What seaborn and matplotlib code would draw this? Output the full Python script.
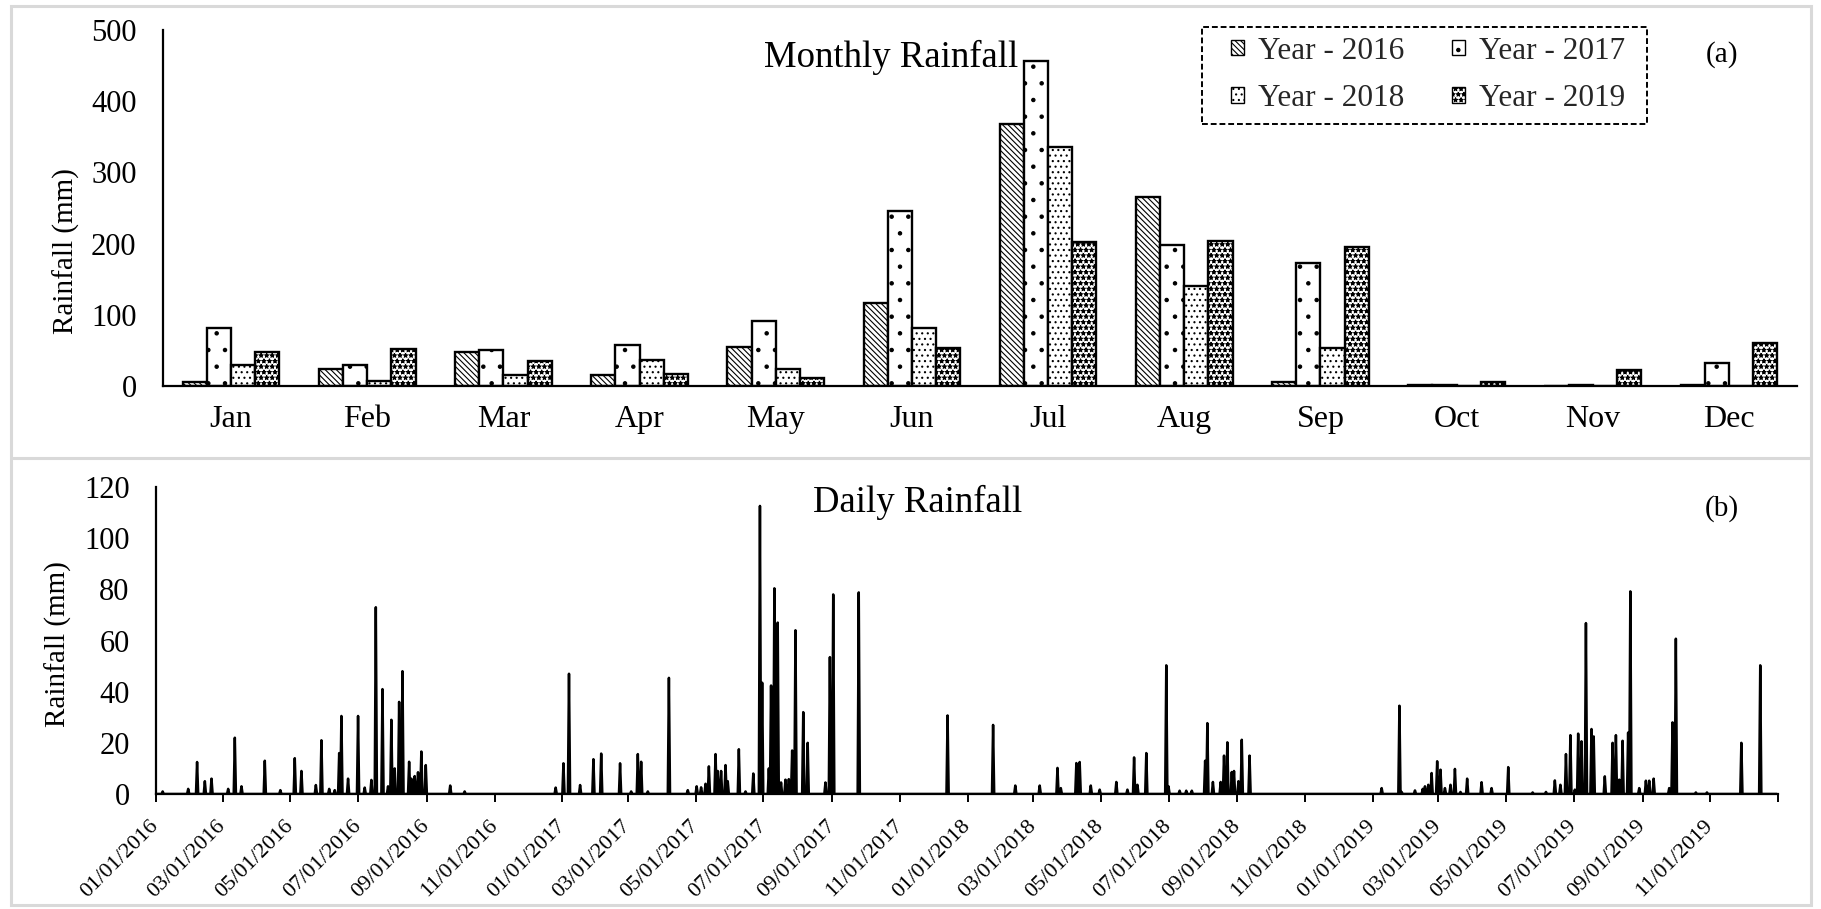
import numpy as np
import pandas as pd
import matplotlib
matplotlib.use("Agg")
import matplotlib.pyplot as plt
import matplotlib.dates as mdates
from matplotlib.patches import Patch, Rectangle
from matplotlib.lines import Line2D
import seaborn as sns

# ---- monthly totals (mm) ----
months = ["Jan", "Feb", "Mar", "Apr", "May", "Jun",
          "Jul", "Aug", "Sep", "Oct", "Nov", "Dec"]
years = ["Year - 2016", "Year - 2017", "Year - 2018", "Year - 2019"]
rain_2016 = [5, 24, 48, 15, 55, 117, 368, 266, 5, 1.5, 0, 1.5]
rain_2017 = [81, 30, 50, 58, 91, 246, 456, 198, 173, 1.5, 1, 33]
rain_2018 = [30, 6.5, 15, 36.5, 24, 81, 335, 141, 53, 0, 0, 0]
rain_2019 = [48, 51.5, 35, 17, 11, 53, 202, 203, 195, 5, 22, 61]
year_hatches = ["\\\\\\\\\\\\", ".", "...", "***"]

# ---- daily rainfall events (mm); all other days are dry ----
event_dates = [
    "2016-01-07", "2016-01-30", "2016-02-07", "2016-02-14", "2016-02-20",
    "2016-03-06", "2016-03-12", "2016-03-18", "2016-04-08", "2016-04-22",
    "2016-05-05", "2016-05-11", "2016-05-24", "2016-05-29", "2016-06-05",
    "2016-06-10", "2016-06-14", "2016-06-16", "2016-06-22", "2016-07-01",
    "2016-07-07", "2016-07-13", "2016-07-17", "2016-07-23", "2016-07-28",
    "2016-07-31", "2016-08-03", "2016-08-07", "2016-08-10", "2016-08-16",
    "2016-08-18", "2016-08-21", "2016-08-24", "2016-08-27", "2016-08-31",
    "2016-09-22", "2016-10-05",
    "2016-12-26", "2017-01-02", "2017-01-07", "2017-01-17", "2017-01-29",
    "2017-02-05", "2017-02-22", "2017-03-04", "2017-03-10", "2017-03-13",
    "2017-03-19", "2017-04-07", "2017-04-24", "2017-05-02", "2017-05-06",
    "2017-05-10", "2017-05-13", "2017-05-19", "2017-05-21", "2017-05-24",
    "2017-05-28", "2017-05-30", "2017-06-09", "2017-06-15", "2017-06-22",
    "2017-06-28", "2017-06-30", "2017-07-06", "2017-07-08", "2017-07-11",
    "2017-07-14", "2017-07-17", "2017-07-21", "2017-07-24", "2017-07-27",
    "2017-07-30", "2017-08-06", "2017-08-10", "2017-08-26", "2017-08-30",
    "2017-09-02", "2017-09-25",
    "2017-12-14", "2018-01-24", "2018-02-13", "2018-03-07", "2018-03-23",
    "2018-03-26", "2018-04-09", "2018-04-12", "2018-04-22", "2018-04-30",
    "2018-05-15", "2018-05-25", "2018-05-31", "2018-06-03", "2018-06-11",
    "2018-06-29", "2018-07-01", "2018-07-11", "2018-07-17", "2018-07-22",
    "2018-08-03", "2018-08-05", "2018-08-10", "2018-08-17", "2018-08-20",
    "2018-08-23", "2018-08-27", "2018-08-29", "2018-09-02", "2018-09-05",
    "2018-09-12",
    "2019-01-09", "2019-01-25", "2019-01-27", "2019-02-08", "2019-02-15",
    "2019-02-17", "2019-02-20", "2019-02-23", "2019-02-28", "2019-03-03",
    "2019-03-07", "2019-03-12", "2019-03-16", "2019-03-21", "2019-03-27",
    "2019-04-09", "2019-04-18", "2019-05-03", "2019-05-25", "2019-06-06",
    "2019-06-14", "2019-06-19", "2019-06-24", "2019-06-28", "2019-07-02",
    "2019-07-05", "2019-07-08", "2019-07-12", "2019-07-17", "2019-07-19",
    "2019-07-29", "2019-08-05", "2019-08-08", "2019-08-11", "2019-08-14",
    "2019-08-19", "2019-08-21", "2019-08-29", "2019-09-04", "2019-09-07",
    "2019-09-11", "2019-09-25", "2019-09-28", "2019-10-01", "2019-10-19",
    "2019-10-29", "2019-11-29", "2019-12-16",
]
event_mm = [
    1.0, 2.0, 12.5, 5.0, 6.0,
    2.0, 22.0, 3.0, 13.0, 1.5,
    14.0, 9.0, 3.5, 21.0, 2.0,
    1.5, 16.0, 30.5, 6.0, 30.5,
    2.5, 5.5, 73.0, 41.0, 3.0,
    29.0, 10.0, 36.0, 48.0, 12.6,
    6.0, 7.0, 8.5, 16.6, 11.3,
    3.3, 1.0,
    2.5, 12.0, 47.0, 3.5, 13.6,
    15.8, 12.0, 1.0, 15.6, 12.6,
    1.0, 45.4, 1.5, 3.0, 2.6,
    4.0, 10.8, 15.6, 9.0, 9.0,
    11.3, 5.0, 17.5, 1.0, 8.0,
    112.6, 43.5, 10.0, 42.4, 80.4,
    67.0, 4.5, 5.6, 5.8, 17.0,
    64.0, 32.0, 20.0, 4.5, 53.5,
    78.0, 78.8,
    30.7, 27.0, 3.3, 3.3, 10.2,
    2.3, 12.1, 12.5, 3.3, 1.7,
    4.7, 1.7, 14.3, 3.6, 16.0,
    50.3, 3.0, 1.3, 1.3, 1.3,
    13.0, 27.7, 4.7, 4.7, 15.0,
    20.2, 8.6, 9.0, 5.0, 21.2,
    15.0,
    2.3, 34.5, 0.8, 1.4, 2.0,
    3.0, 3.6, 8.2, 12.8, 9.5,
    2.3, 3.6, 9.8, 0.8, 6.0,
    4.6, 2.3, 10.5, 0.6, 0.8,
    5.3, 3.6, 15.6, 23.0, 1.7,
    23.6, 20.6, 66.8, 25.4, 22.5,
    6.9, 20.0, 23.0, 5.6, 20.8,
    24.0, 79.2, 2.3, 5.2, 5.2,
    6.0, 2.3, 28.0, 60.7, 0.6,
    0.6, 20.0, 50.3,
]

sns.set_theme(style="white")
plt.rcParams["font.family"] = ["Liberation Serif", "DejaVu Serif"]
plt.rcParams["hatch.linewidth"] = 0.8

W, H = 1821, 909
fig = plt.figure(figsize=(W / 100, H / 100), dpi=100)


def fx(px):
    return px / W


def fy(py):
    return 1 - py / H


# light grey chart frames
fig.add_artist(Rectangle((fx(11), fy(905)), fx(1811) - fx(11), fy(6) - fy(905),
                         transform=fig.transFigure, fill=False,
                         edgecolor="#d9d9d9", lw=2.2))
fig.add_artist(Line2D([fx(11), fx(1811)], [fy(458), fy(458)],
                      transform=fig.transFigure, color="#d9d9d9", lw=2.2))

# ---------------- (a) monthly rainfall ----------------
ax1 = fig.add_axes([fx(163), fy(386), fx(1797) - fx(163), fy(30) - fy(386)])
monthly = pd.DataFrame({
    "Month": months * 4,
    "Year": np.repeat(years, 12),
    "Rainfall": rain_2016 + rain_2017 + rain_2018 + rain_2019,
})
sns.barplot(data=monthly, x="Month", y="Rainfall", hue="Year", ax=ax1,
            palette={y: "white" for y in years}, saturation=1,
            width=0.71, gap=0, errorbar=None, edgecolor="black",
            linewidth=1.7, legend=False)
for container, hatch in zip(ax1.containers, year_hatches):
    for bar in container:
        bar.set_hatch(hatch)

ax1.set_xlim(-0.5, 11.5)
ax1.set_ylim(0, 500)
ax1.set_yticks(range(0, 501, 100))
ax1.set_xlabel("")
ax1.set_ylabel("")
for s in ["top", "right"]:
    ax1.spines[s].set_visible(False)
for s in ["left", "bottom"]:
    ax1.spines[s].set_color("black")
    ax1.spines[s].set_linewidth(1.6)
ax1.tick_params(axis="y", length=0, labelsize=22, pad=19, colors="black")
ax1.tick_params(axis="x", length=0, labelsize=23, pad=14, colors="black")

legend_handles = [Patch(facecolor="white", edgecolor="black", hatch=h, lw=1.0)
                  for h in year_hatches]
order = [0, 2, 1, 3]
leg = fig.legend([legend_handles[i] for i in order], [years[i] for i in order],
                 ncol=2, loc="center", bbox_to_anchor=(fx(1428), fy(75)),
                 bbox_transform=fig.transFigure, borderaxespad=0,
                 fontsize=22.5, frameon=False, borderpad=0,
                 handlelength=0.4, handleheight=0.4, handletextpad=0.45,
                 columnspacing=1.55, labelspacing=0.6)
# dashed legend box
fig.add_artist(Rectangle((fx(1202), fy(124)), fx(1647) - fx(1202),
                         fy(27) - fy(124), transform=fig.transFigure,
                         fill=False, edgecolor="black", lw=1.4,
                         linestyle=(0, (3, 1.5))))

fig.text(fx(891), fy(67), "Monthly Rainfall", ha="center", va="baseline",
         fontsize=26.5, color="black")
fig.text(fx(1722), fy(55), "(a)", ha="center", va="center",
         fontsize=21, color="black")
fig.text(fx(66), fy(251), "Rainfall (mm)", rotation=90, ha="center",
         va="center", fontsize=21, color="black")

# ---------------- (b) daily rainfall ----------------
ax2 = fig.add_axes([fx(156), fy(794), fx(1778) - fx(156), fy(487) - fy(794)])
days = pd.date_range("2016-01-01", "2019-12-31", freq="D")
daily = pd.Series(0.0, index=days)
daily.loc[pd.to_datetime(event_dates)] = event_mm
daily_df = pd.DataFrame({"Date": days, "Rainfall": daily.values})
sns.lineplot(data=daily_df, x="Date", y="Rainfall", ax=ax2,
             color="black", linewidth=1.8)

ax2.set_xlim(pd.Timestamp("2016-01-01"), pd.Timestamp("2020-01-01"))
ax2.set_ylim(0, 120)
ax2.set_yticks(range(0, 121, 20))
ax2.xaxis.set_major_locator(mdates.MonthLocator(bymonth=[1, 3, 5, 7, 9, 11]))


def date_label(x, pos):
    d = mdates.num2date(x)
    if d.year >= 2020:
        return ""
    return d.strftime("%m/%d/%Y")


ax2.xaxis.set_major_formatter(plt.FuncFormatter(date_label))
ax2.set_xlabel("")
ax2.set_ylabel("")
for s in ["top", "right"]:
    ax2.spines[s].set_visible(False)
for s in ["left", "bottom"]:
    ax2.spines[s].set_color("black")
    ax2.spines[s].set_linewidth(1.6)
ax2.tick_params(axis="y", length=0, labelsize=22, pad=19, colors="black")
ax2.tick_params(axis="x", length=6, width=1.4, direction="out",
                labelsize=16, pad=15, colors="black", bottom=True)
for lbl in ax2.get_xticklabels():
    lbl.set_rotation(45)
    lbl.set_ha("right")
    lbl.set_va("center")
    lbl.set_rotation_mode("anchor")

fig.text(fx(918), fy(512), "Daily Rainfall", ha="center", va="baseline",
         fontsize=26.5, color="black")
fig.text(fx(1722), fy(509), "(b)", ha="center", va="center",
         fontsize=21, color="black")
fig.text(fx(58), fy(644), "Rainfall (mm)", rotation=90, ha="center",
         va="center", fontsize=21, color="black")

fig.savefig("out.png", dpi=100, facecolor="white")
